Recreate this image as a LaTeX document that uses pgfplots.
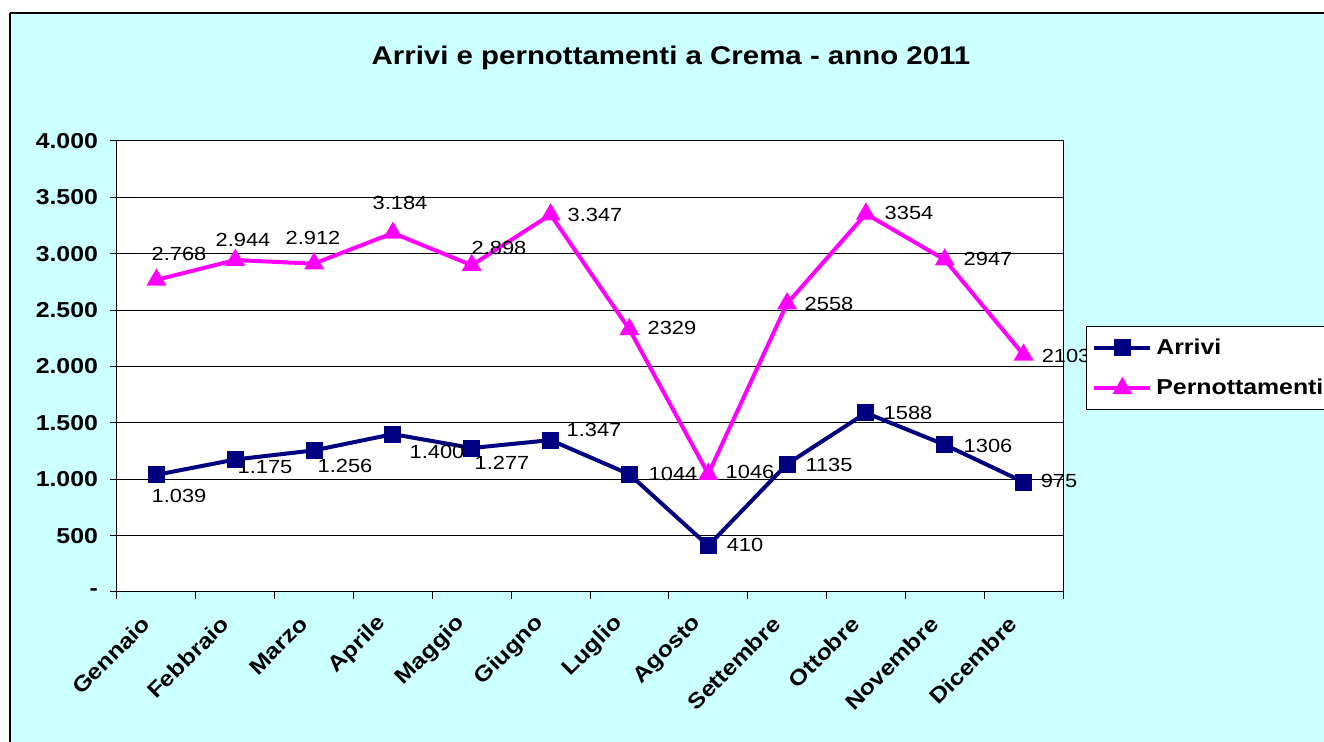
\documentclass[border=0pt]{standalone}
\usepackage{fontspec}
\setmainfont{Liberation Sans}[FakeStretch=1.15]
\usepackage{pgfplots}
\pgfplotsset{compat=1.18}
\definecolor{bgcyan}{RGB}{204,255,255}
\definecolor{arrivi}{RGB}{0,0,128}
\definecolor{pern}{RGB}{255,0,255}
\begin{document}
\begin{tikzpicture}[x=1pt,y=1pt]
\fill[white] (0,0) rectangle (662,-371);
\fill[bgcyan] (5,-6.5) rectangle (662,-371);
\draw[black, line width=0.6pt] (5,-6.5) -- (662,-6.5);
\draw[black, line width=0.6pt] (5,-6.5) -- (5,-371);
\node[font=\bfseries\fontsize{12.8}{15}\selectfont] at (335.5,-29) {Arrivi e pernottamenti a Crema - anno 2011};
\begin{axis}[
 at={(58.5pt,-70.5pt)}, anchor=north west,
 scale only axis, width=473pt, height=225.5pt,
 xmin=-0.5, xmax=11.5, ymin=0, ymax=4000,
 axis background/.style={fill=white},
 axis line style={black, line width=0.5pt},
 ymajorgrids, major grid style={black, line width=0.5pt},
 ytick={0,500,...,4000},
 yticklabels={-,500,1.000,1.500,2.000,2.500,3.000,3.500,4.000},
 xtick={-0.5,0.5,...,11.5},
 xticklabels={,,,,,,,,,,,,,},
 extra x ticks={0,1,...,11},
 extra x tick labels={Gennaio,Febbraio,Marzo,Aprile,Maggio,Giugno,Luglio,Agosto,Settembre,Ottobre,Novembre,Dicembre},
 extra x tick style={major tick length=0pt, grid=none},
 xtick pos=bottom, ytick pos=left,
 tick align=outside, major tick length=3.5pt,
 tick style={black, line width=0.5pt},
 ticklabel style={font=\bfseries\fontsize{10.8}{12}\selectfont},
 yticklabel style={xshift=-2.5pt},
 xticklabel style={xshift=-5pt, yshift=-14pt, rotate=45, anchor=east, inner sep=0pt},
 clip=false,
 legend style={at={(1.0243,0.5898)}, anchor=north west, draw=black, fill=white,
   font=\bfseries\fontsize{10.8}{12}\selectfont, inner xsep=3pt, inner ysep=4pt,
   row sep=7pt, cells={anchor=west}},
 legend image code/.code={\draw[mark repeat=2,mark phase=2,#1] plot coordinates {(0pt,0pt) (14pt,0pt) (28pt,0pt)};},
]
\addplot[arrivi, line width=2pt, mark=square*, mark size=3.25pt] coordinates {
 (0,1039) (1,1175) (2,1256) (3,1400) (4,1277) (5,1347) (6,1044) (7,410) (8,1135) (9,1588) (10,1306) (11,975)};
\addlegendentry{Arrivi}
\addplot[pern, line width=2pt, mark=triangle*, mark size=3.75pt] coordinates {
 (0,2768) (1,2944) (2,2912) (3,3184) (4,2898) (5,3347) (6,2329) (7,1046) (8,2558) (9,3354) (10,2947) (11,2103)};
\addlegendentry{Pernottamenti}
\begin{scope}[every node/.style={font=\fontsize{9.5}{11}\selectfont, inner sep=0pt}]
\node at (axis cs:0.287,2998) {2.768};
\node at (axis cs:1.098,3122) {2.944};
\node at (axis cs:1.986,3140) {2.912};
\node at (axis cs:3.090,3450) {3.184};
\node at (axis cs:4.346,3050) {2.898};
\node at (axis cs:5.564,3344) {3.347};
\node at (axis cs:6.540,2341) {2329};
\node at (axis cs:7.530,1064) {1046};
\node at (axis cs:8.532,2554) {2558};
\node at (axis cs:9.547,3361) {3354};
\node at (axis cs:10.549,2953) {2947};
\node at (axis cs:11.539,2093) {2103};
\node at (axis cs:0.287,851) {1.039};
\node at (axis cs:1.377,1109) {1.175};
\node at (axis cs:2.392,1118) {1.256};
\node at (axis cs:3.559,1242) {1.400};
\node at (axis cs:4.384,1144) {1.277};
\node at (axis cs:5.551,1437) {1.347};
\node at (axis cs:6.553,1047) {1044};
\node at (axis cs:7.466,417) {410};
\node at (axis cs:8.532,1126) {1135};
\node at (axis cs:9.534,1588) {1588};
\node at (axis cs:10.549,1295) {1306};
\node at (axis cs:11.450,984) {975};
\end{scope}
\end{axis}
\pgfresetboundingbox
\useasboundingbox (0,0) rectangle (662,-371);
\end{tikzpicture}
\end{document}
